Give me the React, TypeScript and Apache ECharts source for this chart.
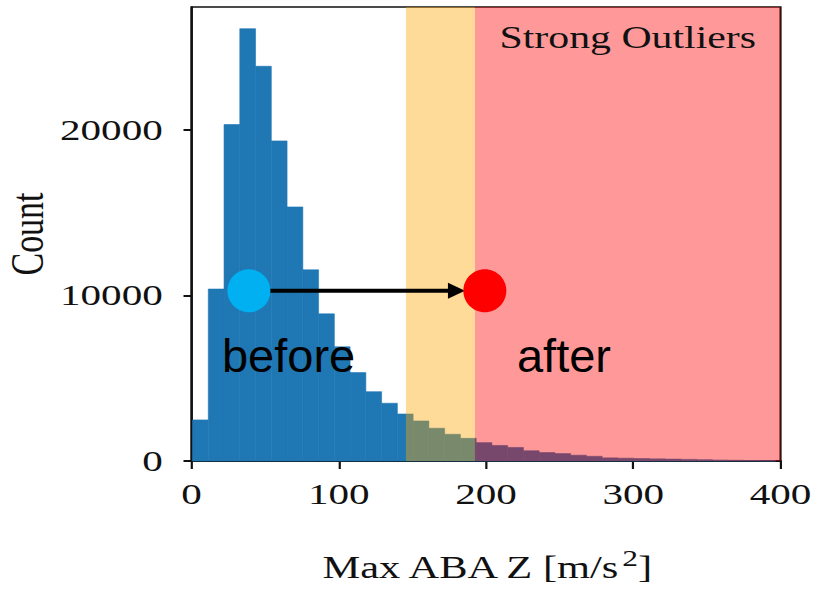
import React, { useEffect, useRef } from "react";
import * as echarts from "echarts";

// ---- data ----
const binEdges = [
  0.7, 11.4, 22.1, 32.8, 43.5, 54.2, 64.9, 75.6, 86.3, 97.0, 107.7, 118.4, 129.1,
  139.8, 150.5, 161.2, 171.9, 182.6, 193.3, 204.0, 214.7, 225.4, 236.1, 246.8,
  257.5, 268.2, 278.9, 289.6, 300.3, 311.0, 321.7, 332.4, 343.1, 353.8, 364.5,
  375.2, 385.9, 396.6,
];
const counts = [
  2480, 10390, 20330, 26120, 23850, 19340, 15350, 11550, 8890, 6900, 5340, 4190,
  3490, 2840, 2420, 1980, 1615, 1370, 1110, 940, 820, 620, 510, 450, 350, 285,
  190, 170, 150, 130, 115, 100, 80, 60, 45, 30, 20,
];
const xTicks = [0, 100, 200, 300, 400];
const yTicks = [0, 10000, 20000];
const yMax = 27430;
const bandStarts = [145.6, 192.5];
const bandEnds = [192.5, 400];
const bandColors = ["rgba(255,165,0,0.4)", "rgba(255,0,0,0.4)"];
const bandLabels = ["", "Strong Outliers"];
const pointNames = ["before", "after"];
const pointX = [39, 199.2];
const pointY = [10280, 10280];
const pointColors = ["#00b0f0", "#ff0000"];
const labelX = [20.7, 221];
const labelY = [6350, 6350];
const arrowFrom = [53.3, 10280];
const arrowTo = [185.7, 10280];

// ---- layout ----
const W = 817;
const H = 591;
const S = 1.37; // horizontal stretch of the original figure
const IW = W / S;
const SERIF = "'Liberation Serif', 'Times New Roman', serif";
const SANS = "'Liberation Sans', Arial, sans-serif";
const INK = "#111111";

export default function App() {
  const ref = useRef<HTMLDivElement>(null);

  useEffect(() => {
    if (!ref.current) return;
    const chart = echarts.init(ref.current, undefined, { renderer: "svg" });

    const histData = counts.map((c, i) => [binEdges[i], binEdges[i + 1], c]);
    const bandData = bandStarts.map((s, i) => [s, bandEnds[i], i]);

    chart.setOption({
      animation: false,
      backgroundColor: "#ffffff",
      grid: {
        left: 191.5 / S,
        right: (W - 781) / S,
        top: 7,
        bottom: H - 461,
        containLabel: false,
        outerBoundsMode: "none",
        show: true,
        borderColor: INK,
        borderWidth: 1.6,
        backgroundColor: "transparent",
      },
      xAxis: {
        type: "value",
        min: 0,
        max: 400,
        interval: 100,
        splitLine: { show: false },
        axisLine: { show: true, onZero: false, lineStyle: { color: INK, width: 2 } },
        axisTick: { show: true, length: 8, lineStyle: { color: INK, width: 1.6 }, customValues: xTicks },
        axisLabel: {
          customValues: xTicks,
          formatter: (v: number) => String(v),
          hideOverlap: false,
          margin: 18,
          fontFamily: SERIF,
          fontSize: 30,
          color: INK,
        },
        name: "{n|Max ABA Z [m/s}{s|2}{n|]}",
        nameLocation: "middle",
        nameGap: 86,
        nameMoveOverlap: false,
        nameTextStyle: {
          fontFamily: SERIF,
          fontSize: 31,
          color: INK,
          rich: {
            n: { fontFamily: SERIF, fontSize: 31, color: INK, verticalAlign: "bottom" },
            s: {
              fontFamily: SERIF,
              fontSize: 23,
              color: INK,
              verticalAlign: "bottom",
              padding: [0, 0, 13, 1],
            },
          },
        },
      },
      yAxis: {
        type: "value",
        min: 0,
        max: yMax,
        splitLine: { show: false },
        axisLine: { show: true, onZero: false, lineStyle: { color: INK, width: 1.6 } },
        axisTick: { show: true, length: 8 / S, lineStyle: { color: INK, width: 2 }, customValues: yTicks },
        axisLabel: {
          customValues: yTicks,
          formatter: (v: number) => String(v),
          hideOverlap: false,
          margin: 21,
          fontFamily: SERIF,
          fontSize: 30,
          color: INK,
        },
        name: "Count",
        nameLocation: "middle",
        nameGap: 103,
        nameMoveOverlap: false,
        nameTextStyle: { fontFamily: SERIF, fontSize: 34, color: INK },
      },
      series: [
        {
          type: "custom",
          name: "hist",
          z: 2,
          encode: { x: [0, 1], y: 2 },
          data: histData,
          renderItem: (params: any, api: any) => {
            const p0 = api.coord([api.value(0), api.value(2)]);
            const p1 = api.coord([api.value(1), 0]);
            return {
              type: "rect",
              shape: { x: p0[0], y: p0[1], width: p1[0] - p0[0], height: p1[1] - p0[1] },
              style: { fill: "#1f77b4", stroke: "#1f77b4", lineWidth: 0.5 },
            };
          },
        },
        {
          type: "custom",
          name: "bands",
          z: 5,
          encode: { x: [0, 1] },
          data: bandData,
          renderItem: (params: any, api: any) => {
            const cs = params.coordSys;
            const idx = api.value(2);
            const a = api.coord([api.value(0), 0]);
            const b = api.coord([api.value(1), 0]);
            const children: any[] = [
              {
                type: "rect",
                shape: { x: a[0], y: cs.y, width: b[0] - a[0], height: cs.height },
                style: { fill: bandColors[idx] },
              },
            ];
            if (bandLabels[idx]) {
              children.push({
                type: "text",
                x: (a[0] + b[0]) / 2,
                y: cs.y + 31,
                style: {
                  text: bandLabels[idx],
                  fontFamily: SERIF,
                  fontSize: 30.5,
                  fill: INK,
                  align: "center",
                  verticalAlign: "middle",
                },
              });
            }
            return { type: "group", children };
          },
        },
        {
          type: "custom",
          name: "annotations",
          z: 10,
          encode: { x: 0, y: 1 },
          data: [[arrowFrom[0], arrowFrom[1]]],
          renderItem: (params: any, api: any) => {
            const f = api.coord(arrowFrom);
            const t = api.coord(arrowTo);
            const headLen = 17 / S;
            const headHalf = 8;
            const children: any[] = [
              {
                type: "line",
                shape: { x1: f[0], y1: f[1], x2: t[0] - headLen + 1, y2: t[1] },
                style: { stroke: "#000", lineWidth: 4 },
              },
              {
                type: "polygon",
                shape: {
                  points: [
                    [t[0], t[1]],
                    [t[0] - headLen, t[1] - headHalf],
                    [t[0] - headLen, t[1] + headHalf],
                  ],
                },
                style: { fill: "#000" },
              },
            ];
            pointNames.forEach((name, i) => {
              const c = api.coord([pointX[i], pointY[i]]);
              children.push({
                type: "ellipse",
                shape: { cx: c[0], cy: c[1], rx: 21.5 / S, ry: 21.5 },
                style: { fill: pointColors[i] },
              });
              const l = api.coord([labelX[i], labelY[i]]);
              children.push({
                type: "text",
                x: l[0],
                y: l[1],
                scaleX: 1 / S,
                style: {
                  text: name,
                  fontFamily: SANS,
                  fontSize: 47,
                  fill: "#000",
                  align: "left",
                  verticalAlign: "middle",
                },
              });
            });
            return { type: "group", children };
          },
        },
      ],
    });

    return () => chart.dispose();
  }, []);

  return (
    <div
      style={{
        position: "fixed",
        left: 0,
        top: 0,
        width: W,
        height: H,
        overflow: "hidden",
        background: "#fff",
      }}
    >
      <div
        ref={ref}
        style={{
          width: IW,
          height: H,
          transform: `scaleX(${S})`,
          transformOrigin: "0 0",
        }}
      />
    </div>
  );
}
